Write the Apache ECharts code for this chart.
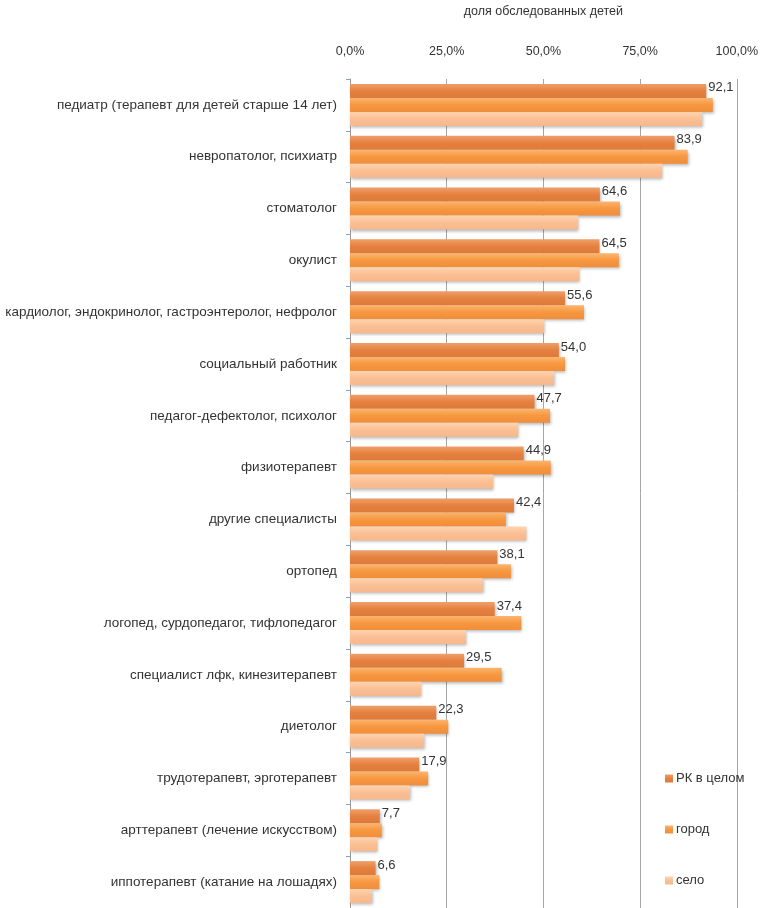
<!DOCTYPE html>
<html>
<head>
<meta charset="utf-8">
<script src="https://cdn.jsdelivr.net/npm/echarts@6/dist/echarts.min.js"></script>
<style>
  html, body { margin: 0; padding: 0; background: #ffffff; }
  #chart { width: 761px; height: 908px; }
</style>
</head>
<body>
<div id="chart"></div>
<script>
// Specialists (top to bottom)
const categories = [
  'педиатр (терапевт для детей старше 14 лет)',
  'невропатолог, психиатр',
  'стоматолог',
  'окулист',
  'кардиолог, эндокринолог, гастроэнтеролог, нефролог',
  'социальный работник',
  'педагог-дефектолог, психолог',
  'физиотерапевт',
  'другие специалисты',
  'ортопед',
  'логопед, сурдопедагог, тифлопедагог',
  'специалист лфк, кинезитерапевт',
  'диетолог',
  'трудотерапевт, эрготерапевт',
  'арттерапевт (лечение искусством)',
  'иппотерапевт (катание на лошадях)'
];

const seriesNames = ['РК в целом', 'город', 'село'];

// Share of surveyed children, %
const valuesTotal = [92.1, 83.9, 64.6, 64.5, 55.6, 54.0, 47.7, 44.9, 42.4, 38.1, 37.4, 29.5, 22.3, 17.9, 7.7, 6.6];
const valuesCity  = [93.8, 87.3, 69.8, 69.5, 60.5, 55.6, 51.7, 51.9, 40.3, 41.6, 44.3, 39.2, 25.4, 20.2, 8.2, 7.6];
const valuesRural = [91.0, 80.7, 59.0, 59.3, 50.2, 52.7, 43.5, 37.0, 45.6, 34.3, 30.0, 18.4, 19.1, 15.5, 7.1, 5.6];

const xTicks = [0, 25, 50, 75, 100];

const FONT = "'Liberation Sans', 'Noto Sans', sans-serif";
const TEXT = '#333333';

function grad(top, mid, bottom) {
  return new echarts.graphic.LinearGradient(0, 0, 0, 1, [
    { offset: 0, color: top },
    { offset: 0.5, color: mid },
    { offset: 1, color: bottom }
  ]);
}

const shadow = {
  shadowColor: 'rgba(0,0,0,0.28)',
  shadowBlur: 3,
  shadowOffsetX: 1,
  shadowOffsetY: 2
};

const chart = echarts.init(document.getElementById('chart'), null, { renderer: 'canvas' });

chart.setOption({
  backgroundColor: '#ffffff',
  animation: false,
  textStyle: { fontFamily: FONT },
  grid: { left: 350, right: 24, top: 78, bottom: 0, containLabel: false },
  legend: {
    orient: 'vertical',
    left: 660,
    top: 767,
    itemWidth: 8,
    itemHeight: 8,
    itemGap: 38,
    icon: 'rect',
    textStyle: { fontFamily: FONT, fontSize: 13, color: TEXT, padding: [0, 0, 0, -2] },
    data: seriesNames
  },
  xAxis: {
    type: 'value',
    position: 'top',
    min: xTicks[0],
    max: xTicks[xTicks.length - 1],
    interval: 25,
    name: 'доля обследованных детей',
    nameLocation: 'middle',
    nameGap: 61,
    nameTextStyle: { fontFamily: FONT, fontSize: 12.5, color: TEXT },
    axisLine: { show: false },
    axisTick: { show: false },
    axisLabel: {
      fontFamily: FONT,
      fontSize: 12.5,
      color: TEXT,
      margin: 21,
      formatter: v => v.toFixed(1).replace('.', ',') + '%'
    },
    splitLine: { show: true, lineStyle: { color: '#a6a6a6', width: 1 } }
  },
  yAxis: {
    type: 'category',
    inverse: true,
    data: categories,
    axisLine: { show: true, lineStyle: { color: '#9a9a9a', width: 1 } },
    axisTick: { show: true, length: 4, lineStyle: { color: '#8aa0c0' } },
    axisLabel: { fontFamily: FONT, fontSize: 13.5, color: TEXT, margin: 13 }
  },
  series: [
    {
      name: seriesNames[0],
      type: 'bar',
      data: valuesTotal,
      barCategoryGap: '19%',
      barGap: '0%',
      itemStyle: Object.assign({ color: grad('#ef9f6b', '#e5813f', '#de7a3a') }, shadow),
      label: {
        show: true,
        position: 'right',
        distance: 2,
        offset: [0, -3],
        fontFamily: FONT,
        fontSize: 13,
        color: TEXT,
        formatter: p => p.value.toFixed(1).replace('.', ',')
      }
    },
    {
      name: seriesNames[1],
      type: 'bar',
      data: valuesCity,
      barGap: '0%',
      itemStyle: Object.assign({ color: grad('#fbb56f', '#f7973f', '#f08e3c') }, shadow)
    },
    {
      name: seriesNames[2],
      type: 'bar',
      data: valuesRural,
      barGap: '0%',
      itemStyle: Object.assign({ color: grad('#fdd4b0', '#fbbf94', '#f6b88c') }, shadow)
    }
  ]
});
</script>
</body>
</html>
